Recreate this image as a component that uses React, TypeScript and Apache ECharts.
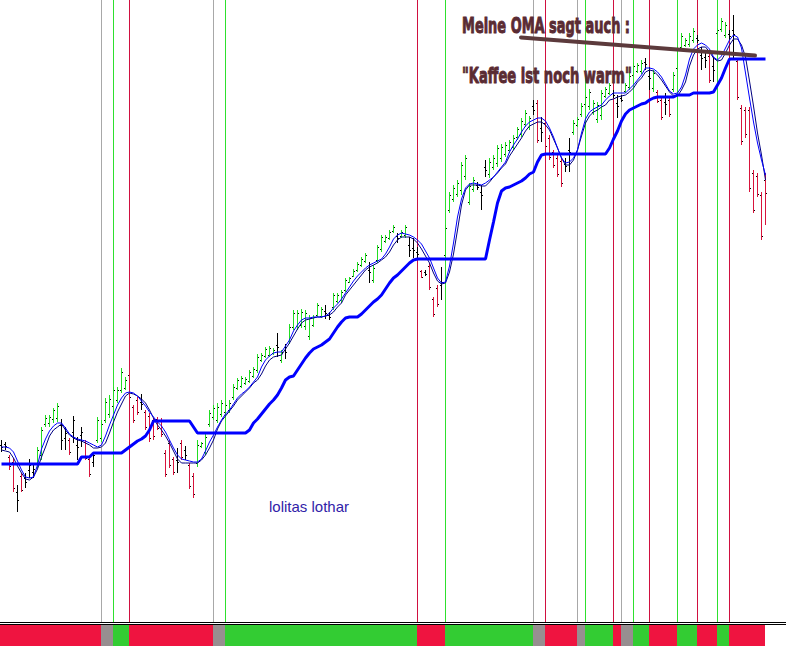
import React, { useEffect, useRef } from "react";
import * as echarts from "echarts";

// Bar chart (price units, unlabeled scale). Index = bar number.
const highs = [560,558,545,542,515,527,527,541,535,553,573,585,585,592,597,581,573,562,584,563,
573,560,543,548,583,580,602,605,613,613,632,623,630,595,603,606,590,587,582,583,
582,550,560,543,552,560,554,537,527,560,558,567,590,595,597,600,597,600,616,622,
624,623,630,633,646,647,653,654,652,667,650,656,676,690,690,691,690,685,685,697,
693,695,688,707,707,710,722,723,731,738,743,747,738,735,755,765,765,770,775,767,
770,775,763,762,753,730,730,737,703,715,733,775,808,815,820,838,845,817,823,818,
815,840,842,845,855,856,858,860,865,873,882,890,884,900,900,883,880,865,850,845,
842,842,862,880,883,897,905,911,900,898,910,913,917,910,905,905,917,927,937,937,
940,942,933,930,910,902,907,902,928,953,967,962,967,972,965,953,950,947,943,972,
982,978,970,985,942,895,893,893,830,827,808,827];
const lows = [548,550,530,508,488,508,512,522,522,532,540,573,573,577,578,550,550,545,557,540,
553,540,523,533,557,558,577,582,590,597,607,610,600,577,585,590,570,558,560,570,
563,523,532,525,527,540,540,511,502,533,552,545,573,580,577,583,585,587,600,610,
612,615,617,622,627,638,642,643,645,643,637,641,656,670,670,672,670,660,673,683,
682,681,680,690,697,697,708,717,723,728,733,737,717,717,737,748,757,760,767,757,
762,762,743,742,740,722,724,710,683,693,700,740,787,798,803,805,820,795,808,810,
790,823,822,830,833,838,843,847,850,860,863,873,870,885,857,858,850,840,832,823,
813,828,828,865,873,883,893,890,885,877,880,902,905,902,882,898,907,910,923,927,
926,930,910,908,897,880,885,883,908,928,950,953,953,957,957,930,932,917,918,965,
968,962,960,942,900,855,862,808,787,803,760,775];
const opens = [555,556,543,538,508,524,522,530,528,536,545,576,577,581,582,575,562,560,568,555,
565,558,541,538,560,562,580,586,594,600,610,612,625,593,600,598,588,584,580,581,
580,547,557,541,540,557,550,535,524,537,554,548,576,583,580,586,588,590,603,612,
614,617,619,624,630,640,644,645,647,655,640,650,659,673,674,675,674,664,675,685,
684,689,685,693,699,700,710,718,724,730,735,739,730,720,740,751,759,762,769,764,
764,765,755,752,748,729,728,734,701,712,715,745,790,801,806,810,824,798,811,815,
808,833,826,833,837,842,846,850,853,863,866,876,873,894,897,872,877,862,848,842,
839,836,850,868,875,886,896,894,888,881,885,904,907,907,897,902,909,913,925,929,
929,938,924,912,908,900,898,900,911,932,953,955,956,960,962,945,943,944,934,967,
971,965,966,970,939,892,890,890,827,824,805,820];
const closes = [553,554,534,512,500,510,518,535,531,550,570,582,583,590,594,560,567,548,580,553,
568,542,526,545,580,576,598,601,610,610,628,620,603,580,588,596,573,562,564,572,
566,526,535,528,538,543,545,514,506,555,557,563,587,592,593,597,595,597,613,620,
622,621,628,631,643,645,651,652,650,653,648,648,673,687,687,688,687,682,683,695,
691,687,683,705,705,708,720,722,729,736,741,745,728,732,753,763,763,768,773,762,
768,773,750,750,746,723,726,713,686,696,718,772,805,812,817,835,842,814,820,813,
805,830,838,842,852,853,855,858,862,871,879,887,882,890,860,868,854,843,835,826,
817,834,848,877,881,894,903,908,897,895,907,911,915,905,894,900,915,924,934,935,
937,936,922,927,899,883,896,886,925,950,964,960,964,969,960,942,940,920,930,970,
979,975,964,966,903,859,866,812,790,806,764,807];
// k = black, r = falling (red), g = rising (green)
const barKinds = "kkrrkrkkkg" + "gggggkkrkk" + "krrkgggggg" + "ggrrrkrrrr" + "rrrrkrkrrg" +
  "gggggggggg" + "gggggggggk" + "gkgggggggg" + "gkkggggggg" + "ggkggggggk" +
  "ggkkkrkrrr" + "kggggggggk" + "kkgggggggg" + "gggkrkrrrr" + "rkkggggggg" +
  "gggkkkgggg" + "gkkgrrkrgg" + "ggggkkkrkg" + "ggkkrrrrrr" + "rr";

// OMA fast (blue) and slow (navy)
const omaFast = [553,553,552,548,539,530,523,522,523,535,551,561,569,574,577,577,572,566,563,561,
560,559,557,555,553,555,564,575,585,595,602,607,608,607,604,599,594,588,583,578,
574,568,560,552,545,541,540,539,538,538,541,549,558,565,573,580,586,590,596,602,
606,609,613,618,623,633,640,644,647,648,648,654,660,669,675,680,682,682,683,683,
683,684,687,692,696,701,707,713,719,724,728,732,735,737,739,741,746,753,761,765,
767,766,765,763,760,756,749,742,732,722,717,718,734,757,783,801,812,816,817,816,
815,817,820,823,828,833,838,848,855,861,868,874,878,880,882,882,879,872,863,852,
842,837,838,842,850,867,881,888,891,893,895,900,904,907,907,907,907,911,915,920,
925,932,932,931,928,923,916,909,906,907,913,925,941,951,955,957,955,951,943,940,
944,952,960,965,963,952,927,902,878,857,840,825];
const omaSlow = [550,549,548,542,534,527,521,520,523,531,543,553,564,570,573,576,570,565,562,560,
559,557,555,552,552,553,557,567,578,588,596,604,607,606,604,601,597,590,582,575,
570,564,557,549,541,537,537,537,537,537,540,545,552,560,571,579,584,589,594,600,
604,608,612,617,620,626,634,640,643,644,645,651,657,664,671,677,680,681,682,683,
683,684,685,688,693,697,705,710,715,720,725,730,733,735,737,740,743,748,755,760,
763,763,763,761,757,751,744,737,727,719,716,717,728,746,770,795,810,815,815,815,
814,814,818,823,827,832,836,844,850,856,862,869,874,876,878,878,875,870,861,852,
842,835,835,840,850,864,877,884,888,890,893,895,900,901,903,904,905,908,912,918,
922,928,930,929,925,920,914,908,904,904,910,918,934,945,951,953,953,948,942,939,
940,947,955,961,961,955,943,919,894,867,845,820];
// Trailing stop line
const trailStop = [536,536,536,536,536,536,536,536,536,536,536,536,536,536,536,536,536,536,536,536,
543,543,543,547,547,547,547,547,547,547,547,550,553,556,559,561,564,570,579,579,
579,579,579,579,579,579,579,579,573,567,567,567,567,567,567,567,567,567,567,567,
567,567,570,577,581,586,591,596,600,605,612,620,623,624,630,636,642,647,651,653,
655,658,661,667,673,678,682,683,683,683,686,690,694,698,701,705,711,717,722,725,
729,733,737,740,741,741,741,741,741,741,741,741,741,741,741,741,741,741,741,741,
741,741,760,778,797,809,812,813,815,817,819,822,826,828,838,845,846,846,846,846,
846,846,846,846,846,846,846,846,846,846,846,846,852,861,869,879,886,890,892,894,
896,897,900,902,903,903,903,903,903,905,905,905,905,907,907,907,907,907,908,915,
922,932,941,941,941,941,941,941,941,941,941,941];

// Signal strip segments (first bar of each segment) and their state
const stripStarts = [0,25,28,32,53,56,104,111,133,136,144,146,153,155,158,162,169,174,179,182];
const stripStates = ["down","flat","up","down","flat","up","down","up","flat","down","flat","up","down","flat","up","down","up","down","up","down"];
const stripEnd = 191;

const annotation1 = "Meine OMA sagt auch :";
const annotation2 = "\"Kaffee ist noch warm\"";
const signature = "lolitas lothar";

const BAR_COLORS: Record<string, string> = { k: "#000000", r: "#d8143c", g: "#22dd22" };
const VLINE_COLORS: Record<string, string> = { down: "#d01040", flat: "#a8a8a8", up: "#2ee02e" };
const STRIP_COLORS: Record<string, string> = { down: "#ef1440", flat: "#978e90", up: "#33cc33" };

function fitScale(text: string, font: string, target: number) {
  const ctx = document.createElement("canvas").getContext("2d");
  if (!ctx) return 1;
  ctx.font = font;
  const w = ctx.measureText(text).width;
  return w > 0 ? target / w : 1;
}

export default function App() {
  const ref = useRef<HTMLDivElement>(null);
  useEffect(() => {
    if (!ref.current) return;
    const chart = echarts.init(ref.current, null, { renderer: "svg" });
    const ohlcData = highs.map((h, i) => [i, opens[i], closes[i], lows[i], h]);
    const vlineData = stripStarts.slice(1).map((s, k) => [s, 1000, k + 1]);
    const stripData = stripStarts.map((s, k) => [s, 1, k]);

    const font1 = 'bold 22px "DejaVu Sans"';
    const s1 = fitScale(annotation1, font1, 168);
    const s2 = fitScale(annotation2, font1, 170);
    const annStyle = { font: font1, fill: "#5a2b33", stroke: "#5a2b33", lineWidth: 1, verticalAlign: "middle", align: "left" };

    const option: any = {
      animation: false,
      backgroundColor: "#ffffff",
      grid: [
        { left: 0, right: 0, top: 0, height: 622 },
        { left: 0, right: 0, top: 625, height: 21 },
      ],
      xAxis: [
        { gridIndex: 0, type: "value", min: -0.375, max: 196.125, show: false },
        { gridIndex: 1, type: "value", min: -0.375, max: 196.125, show: false },
      ],
      yAxis: [
        { gridIndex: 0, type: "value", min: 378, max: 1000, show: false },
        { gridIndex: 1, type: "value", min: 0, max: 1, show: false },
      ],
      series: [
        {
          type: "custom",
          xAxisIndex: 0,
          yAxisIndex: 0,
          z: 1,
          silent: true,
          data: vlineData,
          renderItem: (params: any, api: any) => {
            const p = api.coord([api.value(0), api.value(1)]);
            const cs = params.coordSys;
            const st = stripStates[api.value(2)];
            return {
              type: "rect",
              shape: { x: Math.round(p[0] - 0.5), y: cs.y, width: 1, height: cs.height },
              style: { fill: VLINE_COLORS[st] },
            };
          },
        },
        {
          type: "custom",
          xAxisIndex: 0,
          yAxisIndex: 0,
          z: 2,
          silent: true,
          data: ohlcData,
          renderItem: (params: any, api: any) => {
            const i = api.value(0);
            const pO = api.coord([i, api.value(1)]);
            const pC = api.coord([i, api.value(2)]);
            const pL = api.coord([i, api.value(3)]);
            const pH = api.coord([i, api.value(4)]);
            const x = Math.round(pH[0] - 0.5);
            const col = BAR_COLORS[barKinds[params.dataIndex]] || "#000";
            return {
              type: "group",
              children: [
                { type: "rect", shape: { x, y: Math.round(pH[1]), width: 1, height: Math.max(1, Math.round(pL[1] - pH[1])) }, style: { fill: col } },
                { type: "rect", shape: { x: x - 1, y: Math.round(pO[1]), width: 1, height: 1 }, style: { fill: "#000" } },
                { type: "rect", shape: { x: x + 1, y: Math.round(pC[1]), width: 1, height: 1 }, style: { fill: "#000" } },
              ],
            };
          },
        },
        {
          type: "line",
          xAxisIndex: 0,
          yAxisIndex: 0,
          z: 3,
          symbol: "none",
          silent: true,
          data: omaSlow.map((v, i) => [i, v]),
          lineStyle: { color: "#000080", width: 1 },
        },
        {
          type: "line",
          xAxisIndex: 0,
          yAxisIndex: 0,
          z: 3,
          symbol: "none",
          silent: true,
          data: omaFast.map((v, i) => [i, v]),
          lineStyle: { color: "#0000ff", width: 1 },
        },
        {
          type: "line",
          xAxisIndex: 0,
          yAxisIndex: 0,
          z: 4,
          symbol: "none",
          silent: true,
          data: trailStop.map((v, i) => [i, v]),
          lineStyle: { color: "#0000ff", width: 3 },
        },
        {
          type: "custom",
          xAxisIndex: 1,
          yAxisIndex: 1,
          z: 1,
          silent: true,
          data: stripData,
          renderItem: (params: any, api: any) => {
            const k = api.value(2);
            const start = stripStarts[k];
            const end = k + 1 < stripStarts.length ? stripStarts[k + 1] : stripEnd;
            const cs = params.coordSys;
            const x0 = start === 0 ? cs.x : Math.round(api.coord([start, 0])[0] - 0.5);
            const x1 = Math.round(api.coord([end, 0])[0] - 0.5);
            return {
              type: "rect",
              shape: { x: x0, y: cs.y, width: x1 - x0, height: cs.height },
              style: { fill: STRIP_COLORS[stripStates[k]] },
            };
          },
        },
      ],
      graphic: [
        { type: "rect", shape: { x: 0, y: 622, width: 786, height: 1 }, style: { fill: "#000" }, silent: true },
        { type: "rect", shape: { x: 0, y: 624, width: 786, height: 1 }, style: { fill: "#000" }, silent: true },
        {
          type: "line",
          shape: { x1: 521, y1: 37.5, x2: 755, y2: 55.5 },
          style: { stroke: "#5c3a3c", lineWidth: 4, lineCap: "round" },
          z: 100,
          silent: true,
        },
        {
          type: "text",
          x: 462,
          y: 25.5,
          scaleX: s1,
          z: 100,
          silent: true,
          style: { ...annStyle, text: annotation1 },
        },
        {
          type: "text",
          x: 462,
          y: 75,
          scaleX: s2,
          z: 100,
          silent: true,
          style: { ...annStyle, text: annotation2 },
        },
        {
          type: "text",
          x: 269,
          y: 506,
          z: 100,
          silent: true,
          style: { text: signature, font: '15px "Liberation Sans", Arial, sans-serif', fill: "#3022a8", verticalAlign: "middle", align: "left" },
        },
      ],
    };
    chart.setOption(option);
    return () => chart.dispose();
  }, []);
  return (
    <div
      ref={ref}
      style={{ position: "fixed", left: 0, top: 0, width: 786, height: 646, background: "#fff" }}
    />
  );
}
